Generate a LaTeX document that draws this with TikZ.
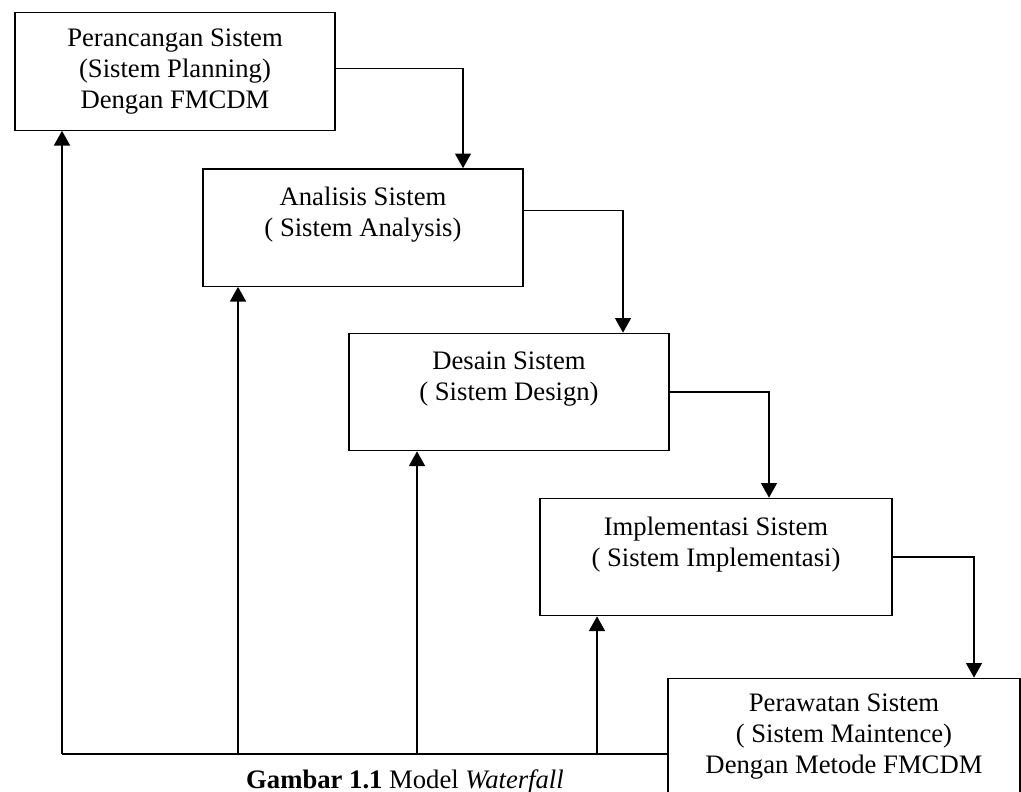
\documentclass[tikz,border=0pt]{standalone}
\usepackage{fontspec}
\setmainfont{Liberation Serif}
\usetikzlibrary{arrows.meta}

\begin{document}
\begin{tikzpicture}[x=0.75pt,y=-0.75pt,>={Triangle[length=11pt,width=12pt]},line width=1pt,
  tahap/.style={draw,minimum width=240pt,minimum height=88pt,inner sep=0pt,align=center,
    font=\fontsize{20}{23.25}\selectfont},
  lebar/.style={tahap,minimum width=264pt}]
  \clip (0,0) rectangle (1021,792);

  % Tahapan
  \node[tahap] (plan) at (175,71.5) {Perancangan Sistem\\(Sistem Planning)\\Dengan FMCDM};
  \node[tahap] (analisis) at (363,227.5) {Analisis Sistem\\( Sistem Analysis)\\\mbox{}};
  \node[tahap] (desain) at (509,392) {Desain Sistem\\( Sistem Design)\\\mbox{}};
  \node[lebar] (implementasi) at (716,557) {Implementasi Sistem\\( Sistem Implementasi)\\\mbox{}};
  \node[lebar] (rawat) at (844,737) {Perawatan Sistem\\( Sistem Maintence)\\Dengan Metode FMCDM};

  % Alur turun
  \draw[->] ([yshift=2pt]plan.east) -| ([xshift=75pt]analisis.north);
  \draw[->] ([yshift=13pt]analisis.east) -| ([xshift=85.5pt]desain.north);
  \draw[->] (desain.east) -| ([xshift=39.75pt]implementasi.north);
  \draw[->] (implementasi.east) -| ([xshift=97.5pt]rawat.north);

  % Umpan balik
  \coordinate (dasar) at ([yshift=-12.75pt]rawat.west);
  \coordinate (u1) at (62,754);
  \coordinate (u2) at (238,754);
  \coordinate (u3) at (417,754);
  \coordinate (u4) at (597,754);
  \draw (dasar) -- (u1);
  \foreach \u/\t in {u1/plan,u2/analisis,u3/desain,u4/implementasi}
    \draw[->] (\u) -- (\u |- \t.south);

  \node[font=\fontsize{20}{24}\selectfont,anchor=base,inner sep=1pt] (judul) at (405,788)
    {\textbf{Gambar 1.1} Model \textit{Waterfall}};
\end{tikzpicture}
\end{document}
